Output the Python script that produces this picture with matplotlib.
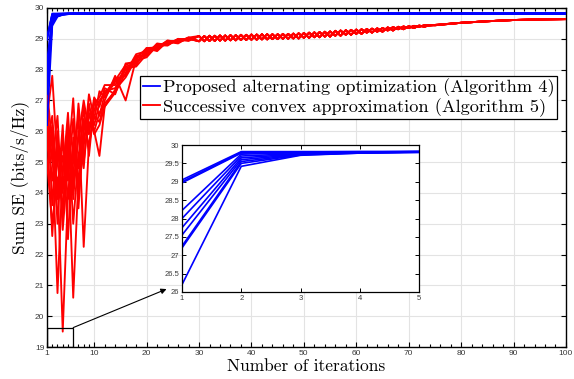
import matplotlib.pyplot as plt
from matplotlib.patches import Rectangle
from matplotlib.ticker import MultipleLocator, FixedLocator

# proposed alternating optimization (Algorithm 4): 10 realizations
ao_iters = [1, 2, 3, 4, 5, 6, 100]
ao_runs = [
    [29.05, 29.82, 29.82, 29.82, 29.82, 29.82, 29.82],
    [29.00, 29.80, 29.81, 29.82, 29.82, 29.82, 29.82],
    [28.97, 29.78, 29.80, 29.81, 29.82, 29.82, 29.82],
    [28.22, 29.75, 29.79, 29.81, 29.82, 29.82, 29.82],
    [28.00, 29.70, 29.77, 29.80, 29.82, 29.82, 29.82],
    [27.75, 29.65, 29.76, 29.80, 29.81, 29.82, 29.82],
    [27.55, 29.60, 29.75, 29.79, 29.81, 29.82, 29.82],
    [27.25, 29.55, 29.74, 29.79, 29.81, 29.82, 29.82],
    [27.20, 29.50, 29.73, 29.78, 29.80, 29.81, 29.81],
    [26.20, 29.42, 29.72, 29.78, 29.80, 29.81, 29.81],
]

# successive convex approximation (Algorithm 5): 10 realizations
sca_head_iters = [1, 2, 3, 4, 5, 6, 7, 8, 9, 10, 11, 12]
sca_heads = [
    [25.0, 23.0, 24.5, 19.5, 24.0, 25.5, 24.2, 25.8, 26.3, 26.0, 26.6, 26.9],
    [27.4, 25.5, 20.75, 24.8, 26.1, 23.0, 25.2, 26.4, 25.5, 26.7, 27.0, 27.2],
    [26.5, 27.8, 25.0, 23.5, 25.5, 20.6, 24.5, 26.0, 26.8, 26.2, 26.9, 27.3],
    [24.8, 26.2, 23.0, 25.8, 23.8, 25.0, 26.5, 22.25, 25.6, 26.5, 26.3, 27.0],
    [26.0, 22.6, 25.5, 24.0, 26.3, 24.2, 25.8, 27.0, 26.0, 27.1, 26.8, 27.4],
    [27.0, 23.6, 26.0, 22.8, 25.0, 27.07, 24.0, 25.5, 27.2, 26.4, 27.3, 27.1],
    [25.6, 26.5, 24.0, 26.2, 22.5, 25.8, 24.8, 26.8, 25.2, 26.9, 27.1, 27.5],
    [26.8, 25.0, 26.5, 23.2, 25.9, 24.5, 26.9, 25.0, 26.6, 25.9, 26.2, 26.8],
    [24.7, 25.8, 23.8, 25.2, 24.4, 26.4, 23.5, 26.2, 25.9, 27.0, 26.5, 27.2],
    [26.2, 24.4, 25.6, 24.6, 26.6, 23.8, 26.0, 24.8, 26.9, 26.0, 25.2, 26.8],
]
sca_mid_iters = [14, 16, 18, 20, 22, 24, 26, 28]
sca_mids = [
    [27.3, 28.1, 28.2, 28.6, 28.65, 28.9, 28.85, 29.05],
    [27.7, 27.8, 28.45, 28.45, 28.8, 28.78, 29.0, 28.95],
    [27.4, 28.0, 28.15, 28.7, 28.6, 28.92, 28.9, 29.0],
    [27.8, 27.0, 28.35, 28.5, 28.85, 28.8, 28.98, 28.93],
    [27.2, 28.2, 28.25, 28.55, 28.7, 28.95, 28.88, 29.02],
    [27.6, 27.85, 28.4, 28.65, 28.75, 28.82, 28.97, 28.97],
    [27.5, 28.05, 28.1, 28.5, 28.8, 28.87, 28.92, 29.03],
    [27.25, 27.9, 28.5, 28.6, 28.68, 28.9, 28.95, 28.96],
    [27.65, 28.15, 28.3, 28.4, 28.78, 28.84, 28.99, 29.0],
    [27.35, 27.75, 28.35, 28.7, 28.72, 28.93, 28.9, 29.04],
]
sca_tail_iters = list(range(30, 76))
sca_tail_a = [
    29.09, 28.92, 29.10, 28.93, 29.11, 28.94, 29.12, 28.95, 29.13, 28.96,
    29.14, 28.97, 29.15, 28.98, 29.15, 28.99, 29.16, 29.00, 29.17, 29.01,
    29.19, 29.03, 29.21, 29.05, 29.23, 29.07, 29.26, 29.10, 29.28, 29.13,
    29.30, 29.16, 29.32, 29.20, 29.34, 29.23, 29.37, 29.27, 29.39, 29.31,
    29.41, 29.35, 29.43, 29.39, 29.45, 29.44,
]
sca_tail_b = [
    28.92, 29.09, 28.93, 29.10, 28.94, 29.11, 28.95, 29.12, 28.96, 29.13,
    28.97, 29.14, 28.98, 29.15, 28.99, 29.15, 29.00, 29.16, 29.01, 29.18,
    29.03, 29.20, 29.05, 29.22, 29.07, 29.24, 29.10, 29.27, 29.13, 29.29,
    29.16, 29.31, 29.20, 29.33, 29.23, 29.35, 29.27, 29.38, 29.31, 29.40,
    29.35, 29.42, 29.39, 29.44, 29.43, 29.45,
]
sca_end_iters = [80, 85, 90, 95, 100]
sca_end = [29.52, 29.57, 29.61, 29.63, 29.64]

x_ticks = [1, 10, 20, 30, 40, 50, 60, 70, 80, 90, 100]

BLUE = (0, 0, 1)
RED = (1, 0, 0)
tick_font = "Liberation Sans"
label_font = "cmr10"

fig = plt.figure(figsize=(5.74, 3.79), dpi=100)
ax = fig.add_axes([0.0819, 0.0844, 0.9041, 0.8945])

sca_x = sca_head_iters + sca_mid_iters + sca_tail_iters + sca_end_iters
for i in range(len(sca_heads)):
    tail = sca_tail_a if i % 2 else sca_tail_b
    y = sca_heads[i] + sca_mids[i] + tail + sca_end
    ax.plot(sca_x, y, color=RED, lw=1.35,
            label="Successive convex approximation (Algorithm 5)" if i == 0 else None,
            zorder=3)
for i, run in enumerate(ao_runs):
    ax.plot(ao_iters, run, color=BLUE, lw=1.3,
            label="Proposed alternating optimization (Algorithm 4)" if i == 0 else None,
            zorder=4)

ax.set_xlim(1, 100)
ax.set_ylim(19, 30)
ax.set_xticks(x_ticks)
ax.xaxis.set_minor_locator(FixedLocator([2, 3, 4, 5, 6, 7, 8, 9] + list(range(12, 100, 2))))
ax.yaxis.set_major_locator(MultipleLocator(1))
ax.grid(True, which="major", color="#e3e3e3", lw=0.8)
ax.set_axisbelow(True)
ax.tick_params(which="both", direction="in", top=True, right=True,
               labelsize=6, labelcolor="#3a3a3a", width=0.8, pad=2)
ax.tick_params(which="major", length=3.5)
ax.tick_params(which="minor", length=2)
for lab in ax.get_xticklabels() + ax.get_yticklabels():
    lab.set_fontfamily(tick_font)
for s in ax.spines.values():
    s.set_linewidth(1.0)

ax.set_xlabel("Number of iterations", fontfamily=label_font, fontsize=12.5, labelpad=1)
ax.set_ylabel("Sum SE (bits/s/Hz)", fontfamily=label_font, fontsize=12.5, labelpad=4)

h, l = ax.get_legend_handles_labels()
leg = ax.legend(h[::-1], l[::-1], loc="upper right",
                bbox_to_anchor=(557 / 574, 1 - 76 / 379), bbox_transform=fig.transFigure,
                prop={"family": label_font, "size": 13.2}, frameon=True, fancybox=False,
                edgecolor="black", framealpha=1, borderpad=0.15, labelspacing=0.02,
                handlelength=0.95, handletextpad=0.12, borderaxespad=0)
leg.get_frame().set_linewidth(0.9)
leg.set_zorder(10)

# zoom box and arrow to the inset
ax.add_patch(Rectangle((1, 19), 5, 0.63, fill=False, ec="black", lw=0.9, zorder=6))
ax.annotate("", xy=(23.8, 20.88), xytext=(6, 19.63),
            arrowprops=dict(arrowstyle="-|>", color="black", lw=0.8,
                            mutation_scale=8, shrinkA=0, shrinkB=0), zorder=6)

# inset
ins = fig.add_axes([182 / 574, 1 - 292 / 379, 237 / 574, 147 / 379])
for run in ao_runs:
    ins.plot(ao_iters, run, color=BLUE, lw=1.2)
ins.set_xlim(1, 5)
ins.set_ylim(26, 30)
ins.set_xticks([1, 2, 3, 4, 5])
ins.yaxis.set_major_locator(MultipleLocator(0.5))
ins.yaxis.set_major_formatter(plt.FuncFormatter(lambda v, p: f"{v:g}"))
ins.tick_params(direction="in", top=True, right=True, labelsize=5.5,
                labelcolor="#3a3a3a", length=3, width=0.7, pad=2)
for lab in ins.get_xticklabels() + ins.get_yticklabels():
    lab.set_fontfamily(tick_font)
for s in ins.spines.values():
    s.set_linewidth(0.9)

fig.savefig("out.png", dpi=100)
